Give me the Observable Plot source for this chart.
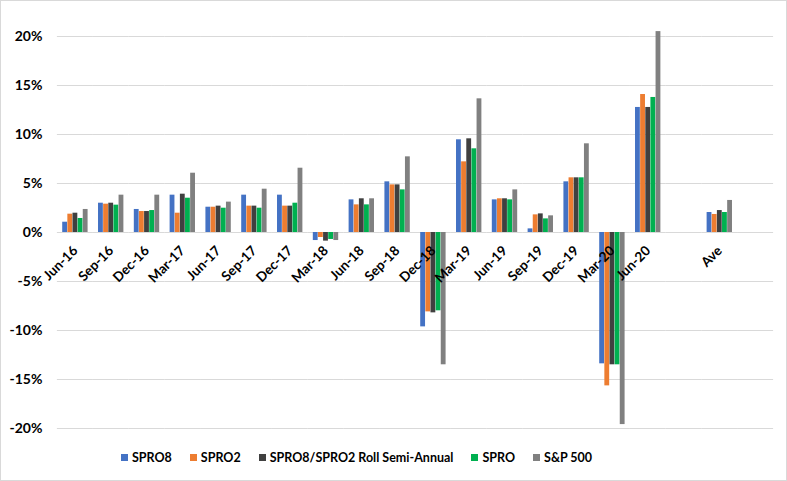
<!DOCTYPE html>
<html><head><meta charset="utf-8">
<script src="https://cdn.jsdelivr.net/npm/d3@7"></script>
<script src="https://cdn.jsdelivr.net/npm/@observablehq/plot@0.6"></script>
<style>
body{margin:0;background:#fff;}
#chart{width:787px;height:481px;box-sizing:border-box;border:1px solid #d9d9d9;position:relative;font-family:Lato,"Open Sans",sans-serif;background:#fff;overflow:hidden}
#chart svg{display:block}
#legend{display:flex;justify-content:flex-start;align-items:center;gap:18px;font-weight:bold;font-size:12.5px;height:33px;padding-left:120px;color:#000}
.item{display:flex;align-items:center;gap:4px}
.sw{width:7px;height:7px;display:inline-block}
</style></head><body><div id="chart"></div>
<script>
const categories = ["Jun-16","Sep-16","Dec-16","Mar-17","Jun-17","Sep-17","Dec-17","Mar-18","Jun-18","Sep-18","Dec-18","Mar-19","Jun-19","Sep-19","Dec-19","Mar-20","Jun-20"," ","Ave","  "];
const series = ["SPRO8","SPRO2","SPRO8/SPRO2 Roll Semi-Annual","SPRO","S&P 500"];
const colors = ["#4472C4","#ED7D31","#404040","#00B050","#808080"];
const spro8  = [1.05,2.99,2.35,3.81,2.58,3.81,3.81,-0.82,3.33,5.17,-9.63,9.46,3.33,0.37,5.17,-13.4,12.76,null,2.04,null];
const spro2  = [1.87,2.89,2.14,1.97,2.58,2.69,2.69,-0.51,2.82,4.86,-8.10,7.21,3.44,1.80,5.58,-15.65,14.08,null,1.84,null];
const roll   = [1.97,2.99,2.14,3.91,2.69,2.69,2.69,-0.88,3.44,4.86,-8.20,9.56,3.44,1.90,5.58,-13.5,12.76,null,2.24,null];
const spro   = [1.43,2.79,2.24,3.50,2.48,2.48,2.99,-0.71,2.82,4.35,-7.99,8.54,3.33,1.39,5.58,-13.5,13.78,null,2.04,null];
const sp500  = [2.35,3.81,3.81,6.05,3.10,4.42,6.56,-0.82,3.44,7.72,-13.5,13.64,4.35,1.70,9.05,-19.6,20.5,null,3.27,null];
const yTicks = [-20,-15,-10,-5,0,5,10,15,20];

const valueLists = [spro8, spro2, roll, spro, sp500];
const rows = [];
categories.forEach((c, i) => {
  series.forEach((s, j) => {
    const v = valueLists[j][i];
    if (v != null) rows.push({cat: c, series: s, value: v});
  });
});

const chart = Plot.plot({
  width: 785,
  height: 440,
  marginTop: 35,
  marginBottom: 13,
  marginLeft: 56,
  marginRight: 13,
  style: {fontFamily: "Lato, 'Open Sans', sans-serif", background: "#fff", color: "#000"},
  fx: {domain: categories, paddingInner: 0.274, paddingOuter: 0.137, round: false, axis: null, label: null},
  x: {domain: series, padding: 0.06, round: false, axis: null},
  y: {domain: [-20, 20], axis: null},
  color: {domain: series, range: colors},
  marks: [
    Plot.ruleY(yTicks, {stroke: "#d9d9d9", strokeWidth: 1, insetLeft: -5, insetRight: -5}),
    Plot.barY(rows, {fx: "cat", x: "series", y: "value", fill: "series"}),
    Plot.text(categories, {fx: d => d, y: 0, text: d => d.trim(), rotate: -45, textAnchor: "end", dy: 16, dx: 0, fontWeight: "bold", fontSize: 13.5, fill: "#000"}),
    Plot.text(yTicks, {fx: () => categories[0], y: d => d, text: d => d + "%", frameAnchor: "left", textAnchor: "end", dx: -20, fontWeight: "bold", fontSize: 14, fill: "#000"})
  ]
});
const root = document.getElementById("chart");
root.appendChild(chart);
const legend = document.createElement("div");
legend.id = "legend";
series.forEach((s, j) => {
  const it = document.createElement("div");
  it.className = "item";
  const sw = document.createElement("span");
  sw.className = "sw";
  sw.style.background = colors[j];
  const t = document.createElement("span");
  t.textContent = s;
  it.appendChild(sw); it.appendChild(t);
  legend.appendChild(it);
});
root.appendChild(legend);
</script></body></html>
